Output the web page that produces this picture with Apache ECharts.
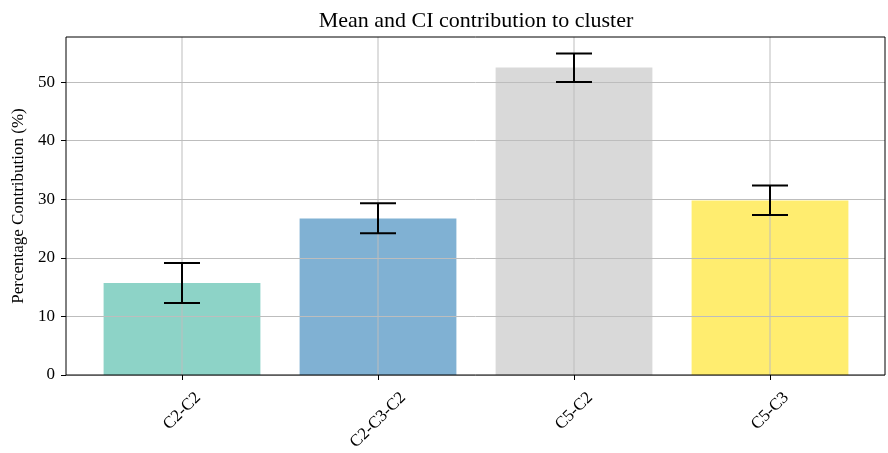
<!DOCTYPE html>
<html>
<head>
<meta charset="utf-8">
<script src="https://cdn.jsdelivr.net/npm/echarts@6/dist/echarts.min.js"></script>
<style>
html, body { margin: 0; padding: 0; background: #fff; }
#mean-ci { width: 888px; height: 453px; }
</style>
</head>
<body>
<div id="mean-ci"></div>
<script>
const categories = ['C2-C2', 'C2-C3-C2', 'C5-C2', 'C5-C3']
const means = [15.7, 26.7, 52.5, 29.8]
const ciLow = [12.3, 24.2, 50.0, 27.3]
const ciHigh = [19.1, 29.3, 54.9, 32.35]
const barColors = ['#8dd3c7', '#80b1d3', '#d9d9d9', '#ffed6f']
const yTicks = [0, 10, 20, 30, 40, 50]
const yMax = 57.7

const FONT = '"Liberation Serif", "DejaVu Serif", serif'
const GRID_COLOR = '#bdbdbd'

let containerDom = document.getElementById('mean-ci')
let myChart = echarts.init(containerDom)

// measure label widths so the rotated labels sit centred under the ticks
let ctx = document.createElement('canvas').getContext('2d')
ctx.font = '17px ' + FONT
const labelWidths = categories.map(c => ctx.measureText(c).width)

let option = {
    backgroundColor: '#fff',
    animation: false,
    title: {
        text: 'Mean and CI contribution to cluster',
        left: 471,
        top: 5,
        textAlign: 'center',
        textStyle: { fontFamily: FONT, fontSize: 22, fontWeight: 'normal', color: '#000' }
    },
    grid: [
        // frame + y axis
        { left: 66, right: 3, top: 37, bottom: 78, show: true, z: 10, outerBoundsMode: 'none',
          backgroundColor: 'transparent', borderColor: '#000', borderWidth: 1 },
        // data area, inset so the bars match the matplotlib margins
        { left: 84, right: 20, top: 37, bottom: 78, outerBoundsMode: 'none' }
    ],
    xAxis: [
        { gridIndex: 0, type: 'value', show: false, min: 0, max: 1 },
        {
            gridIndex: 1,
            type: 'category',
            data: categories,
            z: 3,
            axisLine: { show: false },
            axisTick: { show: true, alignWithLabel: true, length: 5, lineStyle: { color: '#000', width: 1 } },
            axisLabel: { show: false },
            splitLine: { show: false }
        }
    ],
    yAxis: [
        {
            gridIndex: 0,
            type: 'value',
            min: 0,
            max: yMax,
            interval: 10,
            z: 3,
            name: 'Percentage Contribution (%)',
            nameLocation: 'middle',
            nameRotate: 90,
            nameGap: 39,
            nameTextStyle: { fontFamily: FONT, fontSize: 17, color: '#000' },
            axisLine: { show: false },
            axisTick: { show: true, length: 5, customValues: yTicks, lineStyle: { color: '#000', width: 1 } },
            axisLabel: { customValues: yTicks, fontFamily: FONT, fontSize: 17, color: '#000', margin: 11 },
            splitLine: { show: true, lineStyle: { color: GRID_COLOR, width: 1 } }
        },
        { gridIndex: 1, type: 'value', min: 0, max: yMax, show: false }
    ],
    series: [
        {
            type: 'bar',
            xAxisIndex: 1,
            yAxisIndex: 1,
            barWidth: '80%',
            data: means.map((v, i) => ({ value: v, itemStyle: { color: barColors[i] } }))
        },
        {
            // vertical grid lines through the category ticks (drawn above the bars)
            type: 'custom',
            xAxisIndex: 1,
            yAxisIndex: 1,
            z: 4,
            silent: true,
            data: categories.map((c, i) => [i]),
            renderItem: function (params, api) {
                let b = api.coord([api.value(0), 0])
                let t = api.coord([api.value(0), yMax])
                return {
                    type: 'line',
                    shape: { x1: b[0], y1: b[1], x2: t[0], y2: t[1] },
                    style: { stroke: GRID_COLOR, lineWidth: 1 }
                }
            }
        },
        {
            type: 'custom',
            xAxisIndex: 1,
            yAxisIndex: 1,
            z: 5,
            data: categories.map((c, i) => [i, ciLow[i], ciHigh[i]]),
            renderItem: function (params, api) {
                let lo = api.coord([api.value(0), api.value(1)])
                let hi = api.coord([api.value(0), api.value(2)])
                let half = 18
                let st = { stroke: '#000', lineWidth: 2 }
                return {
                    type: 'group',
                    children: [
                        { type: 'line', shape: { x1: lo[0], y1: lo[1], x2: hi[0], y2: hi[1] }, style: st },
                        { type: 'line', shape: { x1: lo[0] - half, y1: lo[1], x2: lo[0] + half, y2: lo[1] }, style: st },
                        { type: 'line', shape: { x1: hi[0] - half, y1: hi[1], x2: hi[0] + half, y2: hi[1] }, style: st }
                    ]
                }
            }
        },
        {
            // rotated category labels, centred like matplotlib's ha='center'
            type: 'custom',
            xAxisIndex: 1,
            yAxisIndex: 1,
            clip: false,
            silent: true,
            data: categories.map((c, i) => [i, 0]),
            renderItem: function (params, api) {
                let i = api.value(0)
                let p = api.coord([i, 0])
                let w = labelWidths[i]
                let top = p[1] + 14
                return {
                    type: 'text',
                    x: p[0] + w / (2 * Math.SQRT2),
                    y: top + 17 / (2 * Math.SQRT2),
                    rotation: Math.PI / 4,
                    style: {
                        text: categories[i],
                        fontFamily: FONT,
                        fontSize: 17,
                        fill: '#000',
                        align: 'right',
                        verticalAlign: 'middle'
                    }
                }
            }
        }
    ]
}
myChart.setOption(option)

window.addEventListener('resize', () => {
    myChart.resize()
})
</script>
</body>
</html>
